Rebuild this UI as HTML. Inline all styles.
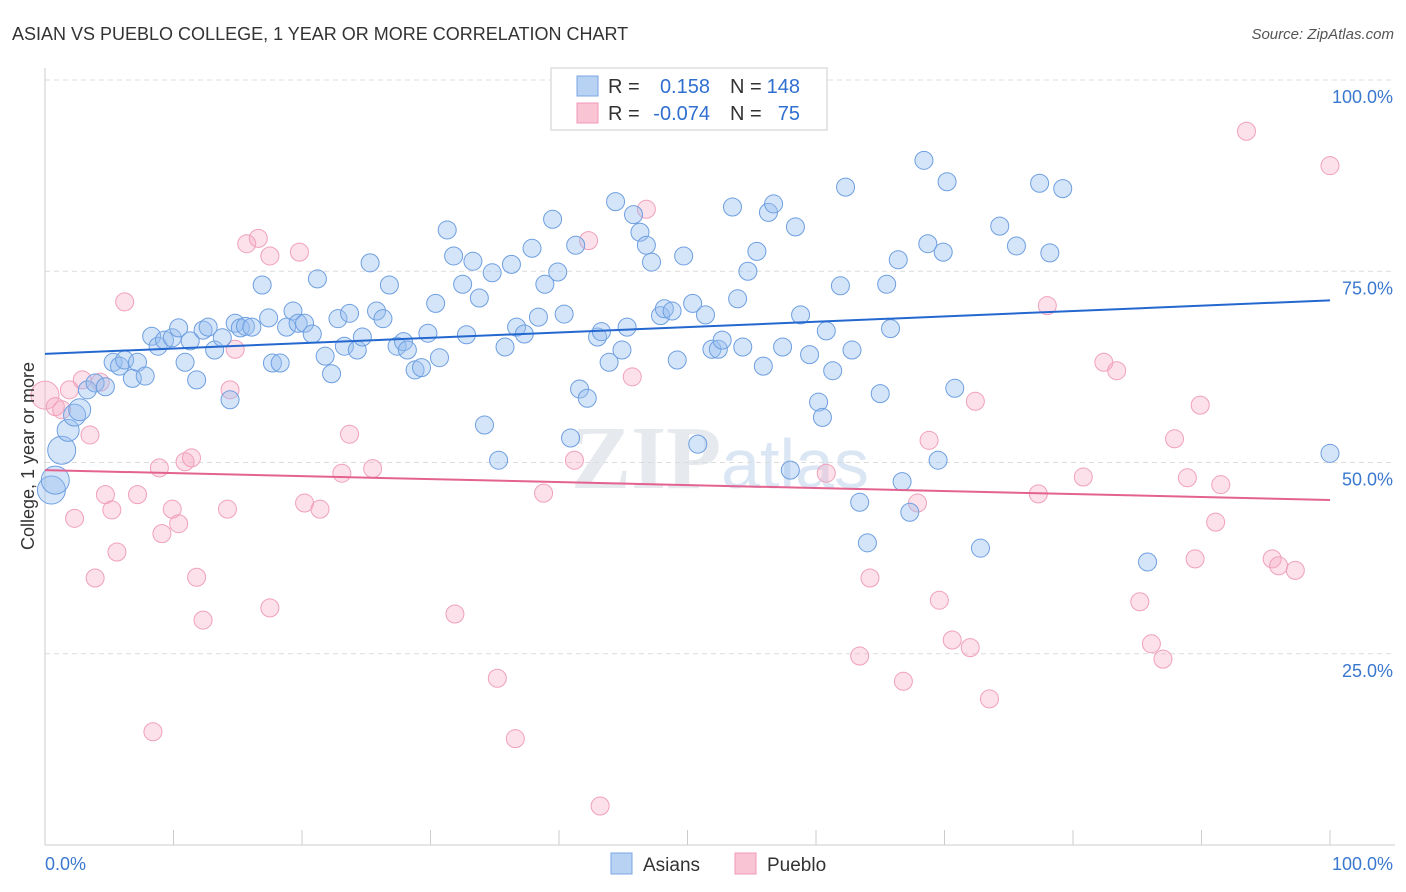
<!DOCTYPE html>
<html><head><meta charset="utf-8"><style>
body{margin:0;background:#fff;font-family:"Liberation Sans",sans-serif;}
svg{display:block}
</style></head><body>
<svg id="chart" width="1406" height="892">
<text x="12" y="40" font-size="18" fill="#333">ASIAN VS PUEBLO COLLEGE, 1 YEAR OR MORE CORRELATION CHART</text>
<text x="1394" y="39" font-size="15" fill="#555" font-style="italic" text-anchor="end">Source: ZipAtlas.com</text>
<text x="720" y="488" font-size="90" fill="#e6e9ee" text-anchor="middle" font-family="Liberation Serif,serif" font-weight="bold">ZIP<tspan fill="#dbe6f5" font-family="Liberation Sans,sans-serif" font-weight="normal" font-size="70">atlas</tspan></text>
<g id="grid"></g><g id="axes"></g><g id="pts"></g><g id="trends"></g>
<text transform="translate(34,456) rotate(-90)" font-size="18" fill="#333" text-anchor="middle">College, 1 year or more</text>
<g>
<rect x="551" y="68" width="276" height="62" fill="#fff" stroke="#ddd" stroke-width="1.5"/>
<rect x="577" y="76" width="21" height="20" fill="#b8d2f4" stroke="#7aa6e6"/>
<rect x="577" y="103" width="21" height="20" fill="#f9c4d4" stroke="#f09ab8"/>
<text x="608" y="93" font-size="20" fill="#333">R =</text>
<text x="710" y="93" font-size="20" fill="#2f6fd0" text-anchor="end">0.158</text>
<text x="730" y="93" font-size="20" fill="#333">N =</text>
<text x="800" y="93" font-size="20" fill="#2f6fd0" text-anchor="end">148</text>
<text x="608" y="120" font-size="20" fill="#333">R =</text>
<text x="710" y="120" font-size="20" fill="#2f6fd0" text-anchor="end">-0.074</text>
<text x="730" y="120" font-size="20" fill="#333">N =</text>
<text x="800" y="120" font-size="20" fill="#2f6fd0" text-anchor="end">75</text>
</g>
<g>
<rect x="611" y="853" width="21" height="21" fill="#b8d2f4" stroke="#7aa6e6"/>
<text x="643" y="871" font-size="19" fill="#333">Asians</text>
<rect x="735" y="853" width="21" height="21" fill="#f9c4d4" stroke="#f09ab8"/>
<text x="767" y="871" font-size="19" fill="#333">Pueblo</text>
</g>
</svg>
<script>
const yTicks=[25,50,75,100];
const yTickLabels=["25.0%","50.0%","75.0%","100.0%"];
const xTicks=[0,10,20,30,40,50,60,70,80,90,100];
const asianX=[0.5,0.8,1.3,1.8,2.3,2.7,3.3,3.9,4.7,5.3,5.8,6.2,6.8,7.2,7.8,8.3,8.8,9.3,9.9,10.4,10.9,11.3,11.8,12.3,12.7,13.2,13.8,14.4,14.8,15.2,15.6,16.1,16.9,17.4,17.7,18.3,18.8,19.3,19.7,20.2,20.8,21.2,21.8,22.3,22.8,23.3,23.7,24.3,24.7,25.3,25.8,26.3,26.8,27.4,27.9,28.2,28.8,29.3,29.8,30.4,30.7,31.3,31.8,32.5,32.8,33.3,33.8,34.2,34.8,35.3,35.8,36.3,36.7,37.3,37.9,38.4,38.9,39.5,39.9,40.4,40.9,41.3,41.6,42.2,43.0,43.3,43.9,44.4,44.9,45.3,45.8,46.3,46.8,47.2,47.9,48.2,48.8,49.2,49.7,50.4,50.8,51.4,51.9,52.4,52.7,53.5,53.9,54.3,54.7,55.4,55.9,56.3,56.7,57.4,58.0,58.4,58.8,59.5,60.2,60.5,60.8,61.3,61.9,62.3,62.8,63.4,64.0,65.0,65.5,65.8,66.4,66.7,67.3,68.4,68.7,69.5,69.9,70.2,70.8,72.8,74.3,75.6,77.4,78.2,79.2,85.8,100.0];
const asianY=[46.4,47.7,51.6,54.2,56.2,56.9,59.5,60.4,59.9,63.1,62.6,63.4,61.0,63.1,61.3,66.5,65.2,66.0,66.3,67.6,63.1,65.9,60.8,67.3,67.7,64.7,66.3,58.2,68.2,67.6,67.8,67.7,73.2,68.9,63.0,63.0,67.7,69.8,68.2,68.2,66.8,74.0,63.9,61.6,68.8,65.2,69.5,64.7,66.4,76.1,69.8,68.8,73.2,65.2,65.8,64.7,62.1,62.4,66.9,70.8,63.7,80.4,77.0,73.3,66.7,76.3,71.5,54.9,74.8,50.3,65.1,75.9,67.7,66.8,78.0,69.0,73.3,81.8,74.9,69.4,53.2,78.4,59.6,58.4,66.4,67.1,63.1,84.1,64.7,67.7,82.4,80.1,78.4,76.2,69.2,70.1,69.8,63.4,77.0,70.8,52.4,69.3,64.8,64.8,66.0,83.4,71.4,65.1,75.0,77.6,62.6,82.7,83.8,65.1,49.0,80.8,69.3,64.1,57.9,55.9,67.2,62.0,73.1,86.0,64.7,44.8,39.5,59.0,73.3,67.5,76.5,47.5,43.5,89.5,78.6,50.3,77.5,86.7,59.7,38.8,80.9,78.3,86.5,77.4,85.8,37.0,51.2];
const puebloX=[0.0,0.8,1.3,1.9,2.9,3.5,3.9,2.3,4.3,4.7,5.2,5.6,6.2,7.2,8.4,8.9,9.1,9.9,10.4,10.9,11.4,11.8,12.3,14.2,14.4,14.8,15.7,16.6,17.5,17.5,19.8,20.2,21.4,23.1,23.7,25.5,31.9,35.2,36.6,38.8,41.2,42.3,43.2,45.7,46.8,60.8,63.4,64.2,66.8,67.9,68.8,69.6,70.6,72.0,72.4,73.5,77.3,78.0,80.8,82.4,83.4,85.2,86.1,87.0,87.9,88.9,89.5,89.9,91.1,91.5,93.5,95.5,96.0,97.3,100.0];
const puebloY=[58.8,57.3,56.9,59.5,60.8,53.6,34.9,42.7,60.5,45.8,43.8,38.3,71.0,45.8,14.8,49.3,40.7,43.9,42.0,50.1,50.6,35.0,29.4,43.9,59.5,64.8,78.6,79.3,77.0,31.0,77.5,44.7,43.9,48.6,53.7,49.2,30.2,21.8,13.9,46.0,50.3,79.0,5.1,61.2,83.1,48.6,24.7,34.9,21.4,44.7,52.9,32.0,26.8,25.8,58.0,19.1,45.9,70.5,48.1,63.1,62.0,31.8,26.3,24.3,53.1,48.0,37.4,57.5,42.2,47.1,93.3,37.4,36.5,35.9,88.8];
const asianTrend=[64.2,71.2];
const puebloTrend=[49.0,45.1];

const NS="http://www.w3.org/2000/svg";
const X0=45,X1=1330,Y0=845,Y100=80;
const sx=v=>X0+(X1-X0)*v/100;
const sy=v=>Y0-(Y0-Y100)*v/100;
function mk(tag,attrs,parent){const e=document.createElementNS(NS,tag);for(const k in attrs)e.setAttribute(k,attrs[k]);parent.appendChild(e);return e;}
const grid=document.getElementById('grid'),axes=document.getElementById('axes'),pts=document.getElementById('pts'),tr=document.getElementById('trends');
yTicks.forEach((t,i)=>{
  const l=mk('line',{x1:45,x2:1395,y1:sy(t),y2:sy(t),stroke:'#dcdcdc','stroke-dasharray':'5,4'},grid);
  
  
  const tx=mk('text',{x:1393,y:sy(t)+23,'font-size':18,fill:'#3a78d0','text-anchor':'end'},grid);
  tx.textContent=yTickLabels[i];
  
  
});
const ax=mk('line',{x1:45,x2:1395,y1:845,y2:845,stroke:'#ccc'},axes);


const ay=mk('line',{x1:45,x2:45,y1:68,y2:845,stroke:'#ccc'},axes);


xTicks.forEach(t=>{
  const l=mk('line',{x1:sx(t),x2:sx(t),y1:830,y2:845,stroke:'#ccc'},axes);
  
  
});
[[45,'start','0.0%'],[1393,'end','100.0%']].forEach(a=>{
  const t=mk('text',{x:a[0],y:870,'font-size':18,fill:'#3a78d0','text-anchor':a[1]},axes);
  t.textContent=a[2];
  
  
});
function radius(i,x){return i<3?14:(x<3?11:9);}
puebloX.forEach((x,i)=>{
  const c=mk('circle',{cx:sx(x),cy:sy(puebloY[i]),r:i==0?14:9,fill:'rgba(245,170,195,0.35)',stroke:'#f0a0bb','stroke-width':1},pts);
  
  
});
asianX.forEach((x,i)=>{
  const c=mk('circle',{cx:sx(x),cy:sy(asianY[i]),r:radius(i,x),fill:'rgba(150,190,240,0.4)',stroke:'#6e9fe0','stroke-width':1},pts);
  
  
});
const bl=mk('line',{x1:sx(0),x2:sx(100),y1:sy(asianTrend[0]),y2:sy(asianTrend[1]),stroke:'#2468cf','stroke-width':2},tr);


const pl=mk('line',{x1:sx(0),x2:sx(100),y1:sy(puebloTrend[0]),y2:sy(puebloTrend[1]),stroke:'#e3628f','stroke-width':2},tr);


</script>
</body></html>
